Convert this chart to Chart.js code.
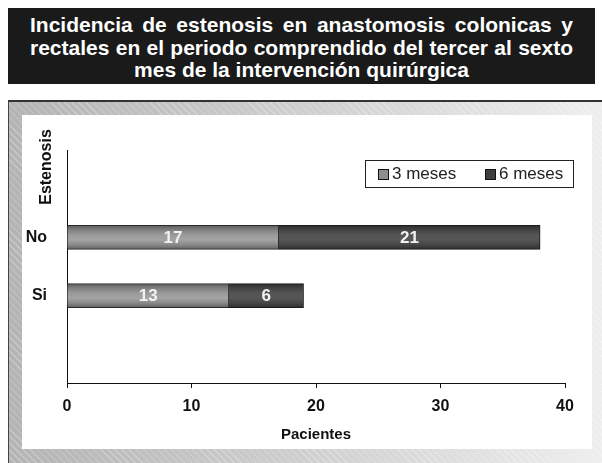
<!DOCTYPE html>
<html>
<head>
<meta charset="utf-8">
<script src="https://cdn.jsdelivr.net/npm/chart.js@4"></script>
<style>
    body { margin: 0; width: 602px; height: 463px; background: #fff; position: relative; overflow: hidden; font-family: "Liberation Sans", Arial, sans-serif; }
    .title-box { position: absolute; left: 8px; top: 8px; width: 587px; height: 76px; background: #1a1a1a; color: #fff; font-weight: bold; font-size: 21px; line-height: 22.5px; box-sizing: border-box; padding: 6px 22px 0 22px; }
    .title-box div { text-align: justify; text-align-last: justify; white-space: nowrap; }
    .title-box div.last { text-align: center; text-align-last: center; }
    .frame { position: absolute; left: 8px; top: 100px; width: 594px; height: 363px; border-top: 2px solid #333; border-left: 1px solid #444; box-sizing: border-box;
        background: repeating-linear-gradient(45deg, rgba(255,255,255,0) 0 4px, rgba(255,255,255,0.25) 4px 5px), linear-gradient(90deg, #b4b4b4 0%, #cfcfcf 50%, #eeeeee 100%); }
    .panel { position: absolute; left: 22px; top: 115px; width: 570px; height: 334px; background: #fff; }
    canvas { display: block; }
</style>
</head>
<body>
<div class="title-box">
    <div>Incidencia de estenosis en anastomosis colonicas y</div>
    <div>rectales en el periodo comprendido del tercer al sexto</div>
    <div class="last">mes de la intervención quirúrgica</div>
</div>
<div class="frame"></div>
<div class="panel"><canvas id="grafico" width="570" height="334"></canvas></div>
<script>
const categorias = ['No', 'Si'];
const tresMeses = [17, 13];
const seisMeses = [21, 6];
const ticksX = [0, 10, 20, 30, 40];

// filas vacias arriba y abajo, como en el original
const etiquetas = ['', ...categorias, ''];
const relleno = arr => [null, ...arr, null];

const GROSOR = 24;
const FUENTE = '"Liberation Sans", Arial, sans-serif';

function degradado(stops, fallback) {
    return (ctx) => {
        const chart = ctx.chart;
        if (!chart.chartArea || !chart.scales.y) return fallback;
        const yc = chart.scales.y.getPixelForValue(ctx.dataIndex);
        const g = chart.ctx.createLinearGradient(0, yc - GROSOR / 2, 0, yc + GROSOR / 2);
        stops.forEach((c, i) => g.addColorStop(i / (stops.length - 1), c));
        return g;
    };
}

const etiquetasBarras = {
    id: 'etiquetasBarras',
    afterDatasetsDraw(chart) {
        const ctx = chart.ctx;
        ctx.save();
        ctx.font = 'bold 17px ' + FUENTE;
        ctx.fillStyle = '#f2f2f2';
        ctx.textAlign = 'center';
        ctx.textBaseline = 'middle';
        chart.data.datasets.forEach((ds, i) => {
            chart.getDatasetMeta(i).data.forEach((bar, j) => {
                if (ds.data[j] == null) return;
                const { x, y, base } = bar.getProps(['x', 'y', 'base'], true);
                ctx.fillText(ds.data[j], (x + base) / 2, y + 1);
            });
        });
        ctx.restore();
    }
};

const extras = {
    id: 'extras',
    afterDraw(chart) {
        const ctx = chart.ctx;
        const area = chart.chartArea;
        ctx.save();
        // titulo eje Y
        ctx.translate(25, area.top + 17);
        ctx.rotate(-Math.PI / 2);
        ctx.font = 'bold 16px ' + FUENTE;
        ctx.fillStyle = '#111';
        ctx.textAlign = 'center';
        ctx.textBaseline = 'middle';
        ctx.fillText('Estenosis', 0, 0);
        ctx.restore();

        // leyenda con recuadro
        const lx = area.right - 200, ly = area.top + 10, lw = 208, lh = 27;
        ctx.save();
        ctx.fillStyle = '#fff';
        ctx.fillRect(lx, ly, lw, lh);
        ctx.strokeStyle = '#222';
        ctx.lineWidth = 1;
        ctx.strokeRect(lx + 0.5, ly + 0.5, lw, lh);
        ctx.font = '17px ' + FUENTE;
        ctx.textBaseline = 'middle';
        const items = [
            { text: chart.data.datasets[0].label, color: '#8e8e8e', x: lx + 13 },
            { text: chart.data.datasets[1].label, color: '#3e3e3e', x: lx + 120 }
        ];
        items.forEach(it => {
            ctx.fillStyle = it.color;
            ctx.fillRect(it.x, ly + 9, 10, 10);
            ctx.strokeStyle = '#111';
            ctx.strokeRect(it.x + 0.5, ly + 9.5, 10, 10);
            ctx.fillStyle = '#222';
            ctx.fillText(it.text, it.x + 14, ly + lh / 2 + 1);
        });
        ctx.restore();
    }
};

new Chart(document.getElementById('grafico'), {
    type: 'bar',
    data: {
        labels: etiquetas,
        datasets: [{
            label: '3 meses',
            data: relleno(tresMeses),
            backgroundColor: degradado(['#5c5c5c', '#828282', '#9a9a9a', '#a4a4a4', '#8a8a8a', '#606060'], '#8e8e8e'),
            borderColor: '#2a2a2a',
            borderWidth: 1,
            barThickness: GROSOR
        }, {
            label: '6 meses',
            data: relleno(seisMeses),
            backgroundColor: degradado(['#2e2e2e', '#444', '#555', '#565656', '#474747', '#2e2e2e'], '#3e3e3e'),
            borderColor: '#1a1a1a',
            borderWidth: 1,
            barThickness: GROSOR
        }]
    },
    options: {
        indexAxis: 'y',
        responsive: false,
        animation: false,
        layout: { padding: { top: 35, right: 27, left: 0, bottom: 0 } },
        scales: {
            x: {
                stacked: true,
                min: ticksX[0],
                max: ticksX[ticksX.length - 1],
                afterBuildTicks: s => { s.ticks = ticksX.map(v => ({ value: v })); },
                afterFit: s => { s.height = 66; },
                grid: { drawOnChartArea: false, drawTicks: true, tickLength: 5, color: '#111' },
                border: { color: '#111', width: 1 },
                ticks: { color: '#111', padding: 9, font: { family: FUENTE, size: 16, weight: 'bold' } },
                title: { display: true, text: 'Pacientes', color: '#111', padding: { top: 0, bottom: 5 }, font: { family: FUENTE, size: 15, weight: 'bold' } }
            },
            y: {
                stacked: true,
                afterFit: s => { s.width = 45; },
                grid: { display: false },
                border: { color: '#111', width: 1 },
                ticks: { color: '#111', padding: 12, font: { family: FUENTE, size: 16, weight: 'bold' } }
            }
        },
        plugins: {
            legend: { display: false },
            tooltip: { enabled: false }
        }
    },
    plugins: [etiquetasBarras, extras]
});
</script>
</body>
</html>
